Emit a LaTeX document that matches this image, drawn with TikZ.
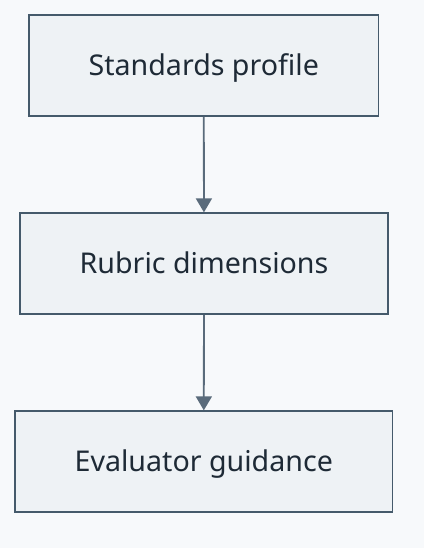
\documentclass[tikz,border=0pt]{standalone}
\usepackage{fontspec}
\setmainfont{Noto Sans}
\usetikzlibrary{arrows.meta}
\definecolor{bgc}{HTML}{F7F9FB}
\definecolor{boxfill}{HTML}{EEF2F5}
\definecolor{boxline}{HTML}{455A6B}
\definecolor{arrowc}{HTML}{5A6B7B}
\definecolor{textc}{HTML}{1E2A36}
\tikzset{
  stepbox/.style={draw=boxline, fill=boxfill, line width=1.8pt, rectangle, minimum height=101pt, inner sep=0pt, text height=26pt, text depth=6pt, font=\fontsize{28.6}{32}\selectfont, text=textc},
  conn/.style={draw=arrowc, line width=1.8pt, -{Triangle[length=14pt,width=16pt]}}
}
\begin{document}
\begin{tikzpicture}[x=1pt,y=-1pt]
\fill[bgc] (0,0) rectangle (424,548);
\useasboundingbox (0,0) rectangle (424,548);
\node[stepbox, minimum width=349.5pt] (a) at (203.75,65.5) {Standards profile};
\node[stepbox, minimum width=368pt] (b) at (204,263.75) {Rubric dimensions};
\node[stepbox, minimum width=377.5pt] (c) at (203.75,461.75) {Evaluator guidance};
\draw[conn] (a) -- (b);
\draw[conn] (b) -- (c);
\end{tikzpicture}
\end{document}
